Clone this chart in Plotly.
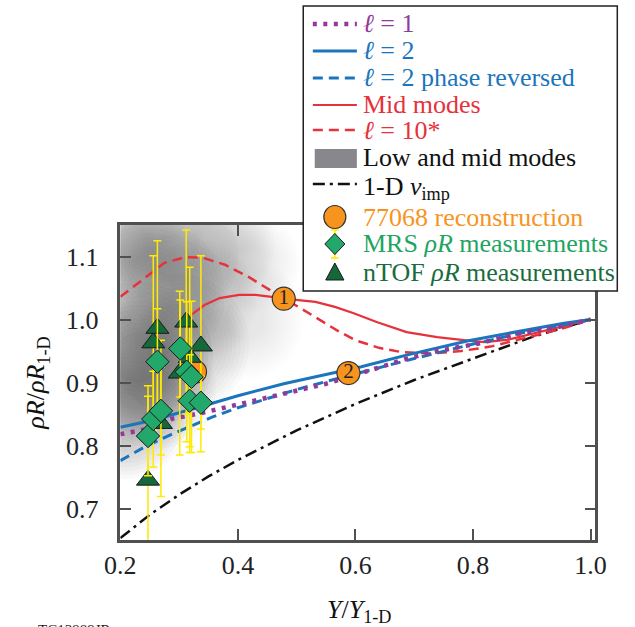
import plotly.graph_objects as go

# ---------------- data ----------------
# l = 1 (dotted purple)
l1_x = [0.2, 0.24, 0.29, 0.34, 0.40, 0.47, 0.55, 0.61, 0.685, 0.74, 0.81, 0.88, 0.945, 1.0]
l1_y = [0.818, 0.825, 0.843, 0.852, 0.865, 0.881, 0.898, 0.915, 0.937, 0.950, 0.962, 0.978, 0.988, 1.0]

# l = 2 (solid blue)
l2_x = [0.2, 0.255, 0.33, 0.40, 0.478, 0.565, 0.61, 0.685, 0.79, 0.90, 0.955, 1.0]
l2_y = [0.829, 0.840, 0.860, 0.879, 0.898, 0.916, 0.925, 0.943, 0.966, 0.985, 0.994, 1.0]

# l = 2 phase reversed (dashed blue)
l2r_x = [0.2, 0.24, 0.29, 0.356, 0.40, 0.45, 0.50, 0.56, 0.62, 0.70, 0.80, 0.90, 1.0]
l2r_y = [0.776, 0.797, 0.819, 0.845, 0.860, 0.875, 0.889, 0.904, 0.919, 0.938, 0.961, 0.982, 1.0]

# Mid modes (solid red)
mid_x = [0.296, 0.316, 0.343, 0.369, 0.402, 0.43, 0.457, 0.478, 0.532, 0.565, 0.597,
         0.636, 0.687, 0.739, 0.788, 0.82, 0.86, 0.90, 0.95, 1.0]
mid_y = [0.988, 1.004, 1.023, 1.034, 1.039, 1.039, 1.036, 1.033, 1.028, 1.020, 1.010,
         0.996, 0.980, 0.972, 0.967, 0.964, 0.968, 0.977, 0.988, 1.0]

# l = 10* (dashed red)
l10_x = [0.2, 0.226, 0.247, 0.275, 0.311, 0.340, 0.378, 0.421, 0.454, 0.48, 0.51, 0.54,
         0.57, 0.60, 0.64, 0.68, 0.73, 0.78, 0.83, 0.89, 0.95, 1.0]
l10_y = [1.036, 1.055, 1.071, 1.090, 1.099, 1.098, 1.087, 1.066, 1.047, 1.033, 1.016, 0.999,
         0.982, 0.967, 0.955, 0.948, 0.946, 0.950, 0.957, 0.971, 0.985, 1.0]

# 1-D v_imp (dash-dot black)
vimp_x = [0.2, 0.25, 0.30, 0.35, 0.40, 0.50, 0.60, 0.70, 0.80, 0.90, 1.0]
vimp_y = [0.653, 0.690, 0.722, 0.751, 0.777, 0.824, 0.866, 0.904, 0.938, 0.972, 1.0]

# 77068 reconstruction
rec_x = [0.327, 0.478, 0.588]
rec_y = [0.917, 1.033, 0.915]
rec_label = ["", "1", "2"]

# MRS rho-R measurements
mrs_x = [0.247, 0.256, 0.263, 0.269, 0.302, 0.313, 0.321, 0.318, 0.337]
mrs_y = [0.815, 0.842, 0.933, 0.855, 0.954, 0.917, 0.909, 0.871, 0.868]
mrs_err = [0.063, 0.076, 0.084, 0.070, 0.077, 0.111, 0.120, 0.073, 0.042]

# nTOF rho-R measurements
ntof_x = [0.247, 0.256, 0.263, 0.269, 0.301, 0.312, 0.318, 0.337]
ntof_y = [0.745, 0.963, 0.986, 0.835, 0.915, 0.996, 0.940, 0.958]
ntof_err_up = [0.150, 0.138, 0.139, 0.132, 0.130, 0.146, 0.143, 0.143]
ntof_err_dn = [0.150, 0.138, 0.139, 0.116, 0.130, 0.146, 0.151, 0.168]

# Low and mid modes: soft grey cloud (centre, size in px, weight)
cloud_x = [0.205, 0.23, 0.25, 0.29, 0.30, 0.36, 0.41, 0.42, 0.26, 0.22, 0.33]
cloud_y = [0.85, 0.94, 1.04, 1.10, 0.96, 1.12, 1.00, 1.09, 0.89, 1.12, 1.03]
cloud_size = [130, 150, 150, 130, 140, 120, 120, 100, 120, 110, 120]
cloud_weight = [1.1, 1.3, 1.0, 0.8, 0.9, 0.6, 0.4, 0.4, 1.0, 0.9, 0.6]

# ---------------- styling ----------------
W, H = 635, 627
SERIF = "Liberation Serif, Times New Roman, serif"
PURPLE = "#93399A"
BLUE = "#1B75BC"
RED = "#E5323B"
ORANGE = "#F7941E"
MRS_GREEN = "#21A86A"
NTOF_GREEN = "#15683A"
YELLOW = "#FFEA00"
AXIS = "#505050"
FS = 26

PLOT_L, PLOT_R, PLOT_T, PLOT_B = 109, 605, 225, 540


def px(x):
    return x / W


def py(y):
    return 1 - y / H


fig = go.Figure()

# grey cloud, built from stacked translucent discs
N_LAYERS = 12
for k in range(N_LAYERS):
    f = 1 - 0.06 * k
    fig.add_trace(go.Scatter(
        x=cloud_x, y=cloud_y, mode="markers", hoverinfo="skip", showlegend=False,
        marker=dict(size=[s * f for s in cloud_size], color="#505050",
                    opacity=[0.032 * w for w in cloud_weight], line=dict(width=0)),
    ))

fig.add_trace(go.Scatter(x=vimp_x, y=vimp_y, mode="lines", name="1-D v_imp", showlegend=False,
                         line=dict(color="#111111", width=2.5, dash="12px,5px,3px,5px")))
fig.add_trace(go.Scatter(x=l10_x, y=l10_y, mode="lines", name="l = 10*", showlegend=False,
                         line=dict(color=RED, width=2.5, dash="10px,6px")))
fig.add_trace(go.Scatter(x=mid_x, y=mid_y, mode="lines", name="Mid modes", showlegend=False,
                         line=dict(color=RED, width=2.2)))
fig.add_trace(go.Scatter(x=l2r_x, y=l2r_y, mode="lines", name="l = 2 phase reversed", showlegend=False,
                         line=dict(color=BLUE, width=3, dash="10px,6px")))
fig.add_trace(go.Scatter(x=l2_x, y=l2_y, mode="lines", name="l = 2", showlegend=False,
                         line=dict(color=BLUE, width=3)))
fig.add_trace(go.Scatter(x=l1_x, y=l1_y, mode="lines", name="l = 1", showlegend=False,
                         line=dict(color=PURPLE, width=4.5, dash="4px,6.5px")))

fig.add_trace(go.Scatter(
    x=rec_x, y=rec_y, mode="markers", name="77068 reconstruction", showlegend=False,
    marker=dict(size=23, color=ORANGE, line=dict(color="#333", width=1.2)),
))
# numbers on the labelled reconstruction points
lab = [(x, y, t) for x, y, t in zip(rec_x, rec_y, rec_label) if t]
fig.add_trace(go.Scatter(
    x=[p[0] for p in lab], y=[p[1] for p in lab], text=[p[2] for p in lab],
    mode="text", textposition="middle center", showlegend=False, hoverinfo="skip",
    textfont=dict(family=SERIF, size=21, color="#222"),
))

fig.add_trace(go.Scatter(
    x=ntof_x, y=ntof_y, mode="markers", name="nTOF ρR measurements", showlegend=False,
    error_y=dict(type="data", array=ntof_err_up, arrayminus=ntof_err_dn, color=YELLOW,
                 thickness=1.5, width=4),
    marker=dict(symbol="triangle-up", size=20, color=NTOF_GREEN, line=dict(color="#1a1a1a", width=1)),
))
fig.add_trace(go.Scatter(
    x=mrs_x, y=mrs_y, mode="markers", name="MRS ρR measurements", showlegend=False,
    error_y=dict(type="data", array=mrs_err, color=YELLOW, thickness=1.5, width=4),
    marker=dict(symbol="diamond", size=18, color=MRS_GREEN, line=dict(color="#1a1a1a", width=1)),
))

# ---------------- legend (drawn as shapes + annotations) ----------------
shapes = []
annotations = []
LEG_L, LEG_R, LEG_T, LEG_B = 300, 628, 6, 291
shapes.append(dict(type="rect", xref="paper", yref="paper", layer="above",
                   x0=px(LEG_L), x1=px(LEG_R), y0=py(LEG_B), y1=py(LEG_T),
                   fillcolor="white", line=dict(color="#222", width=1.5)))

SYM_L, SYM_R, SYM_C, TXT_X = 310, 356, 333, 360

line_rows = [
    (24, 24, PURPLE, 4.5, "4px,6.5px", "<i>ℓ</i> = 1"),
    (51, 51, BLUE, 3, "solid", "<i>ℓ</i> = 2"),
    (78, 78, BLUE, 3, "10px,6px", "<i>ℓ</i> = 2 phase reversed"),
    (105, 105, RED, 2.2, "solid", "Mid modes"),
    (130, 130, RED, 2.5, "10px,6px", "<i>ℓ</i> = 10*"),
    (184, 188, "#111111", 2.5, "12px,5px,3px,5px", "1-D <i>v</i><sub>imp</sub>"),
]
for yl, yt, col, wd, dsh, label in line_rows:
    shapes.append(dict(type="line", xref="paper", yref="paper", layer="above",
                       x0=px(SYM_L), x1=px(SYM_R), y0=py(yl), y1=py(yl),
                       line=dict(color=col, width=wd, dash=dsh)))
    annotations.append(dict(xref="paper", yref="paper", x=px(TXT_X), y=py(yt),
                            xanchor="left", yanchor="middle", showarrow=False, text=label,
                            font=dict(family=SERIF, size=FS, color=col)))

# grey swatch
shapes.append(dict(type="rect", xref="paper", yref="paper", layer="above",
                   x0=px(312), x1=px(356), y0=py(168), y1=py(149),
                   fillcolor="#88888c", line=dict(width=0)))
annotations.append(dict(xref="paper", yref="paper", x=px(TXT_X), y=py(157),
                        xanchor="left", yanchor="middle", showarrow=False,
                        text="Low and mid modes", font=dict(family=SERIF, size=FS, color="#111")))

# orange circle
yc = 217
shapes.append(dict(type="circle", xref="paper", yref="paper", layer="above",
                   x0=px(SYM_C - 11.5), x1=px(SYM_C + 11.5), y0=py(yc + 11.5), y1=py(yc - 11.5),
                   fillcolor=ORANGE, line=dict(color="#333", width=1.2)))
annotations.append(dict(xref="paper", yref="paper", x=px(TXT_X), y=py(yc),
                        xanchor="left", yanchor="middle", showarrow=False,
                        text="77068 reconstruction", font=dict(family=SERIF, size=FS, color=ORANGE)))

# green diamond with yellow bar stubs
yc = 244
for y0, y1 in [(yc - 14, yc - 9), (yc + 9, yc + 14)]:
    shapes.append(dict(type="line", xref="paper", yref="paper", layer="above",
                       x0=px(SYM_C), x1=px(SYM_C), y0=py(y0), y1=py(y1),
                       line=dict(color=YELLOW, width=1.6)))
for ycap in (yc - 14, yc + 14):
    shapes.append(dict(type="line", xref="paper", yref="paper", layer="above",
                       x0=px(SYM_C - 4), x1=px(SYM_C + 4), y0=py(ycap), y1=py(ycap),
                       line=dict(color=YELLOW, width=1.6)))
d = 10.5
shapes.append(dict(type="path", xref="paper", yref="paper", layer="above",
                   path=f"M {px(SYM_C)} {py(yc - d)} L {px(SYM_C + d)} {py(yc)} "
                        f"L {px(SYM_C)} {py(yc + d)} L {px(SYM_C - d)} {py(yc)} Z",
                   fillcolor=MRS_GREEN, line=dict(color="#1a1a1a", width=1)))
annotations.append(dict(xref="paper", yref="paper", x=px(TXT_X), y=py(yc),
                        xanchor="left", yanchor="middle", showarrow=False,
                        text="MRS <i>ρR</i> measurements",
                        font=dict(family=SERIF, size=FS, color="#1FA463")))

# dark green triangle
yc = 272
shapes.append(dict(type="path", xref="paper", yref="paper", layer="above",
                   path=f"M {px(SYM_C)} {py(yc - 9)} L {px(SYM_C + 9.5)} {py(yc + 8)} "
                        f"L {px(SYM_C - 9.5)} {py(yc + 8)} Z",
                   fillcolor=NTOF_GREEN, line=dict(color="#1a1a1a", width=1)))
annotations.append(dict(xref="paper", yref="paper", x=px(TXT_X), y=py(yc),
                        xanchor="left", yanchor="middle", showarrow=False,
                        text="nTOF <i>ρR</i> measurements",
                        font=dict(family=SERIF, size=FS, color="#1A6B3E")))

# x-axis title and job code
annotations.append(dict(xref="paper", yref="paper", x=px(358), y=py(611),
                        xanchor="center", yanchor="middle", showarrow=False,
                        text="<i>Y</i>/<i>Y</i><sub>1-D</sub>",
                        font=dict(family=SERIF, size=FS, color="#111")))
annotations.append(dict(xref="paper", yref="paper", x=px(21), y=py(620),
                        xanchor="left", yanchor="top", showarrow=False,
                        text="TC13989JR", font=dict(family=SERIF, size=15, color="#222")))

axis_common = dict(
    showline=True, linecolor=AXIS, linewidth=2.5, mirror="ticks",
    ticks="inside", ticklen=11, tickwidth=2, tickcolor=AXIS,
    showgrid=False, zeroline=False, tickformat=".1f",
    tickfont=dict(family=SERIF, size=FS, color="#222"),
)

fig.update_layout(
    width=W, height=H, autosize=False,
    margin=dict(l=0, r=0, t=0, b=0),
    paper_bgcolor="white", plot_bgcolor="white",
    showlegend=False,
    xaxis=dict(domain=[px(PLOT_L), px(PLOT_R)], range=[0.2, 1.008],
               tick0=0.2, dtick=0.2, ticklabelstandoff=0, **axis_common),
    yaxis=dict(domain=[py(PLOT_B), py(PLOT_T)], range=[0.65, 1.15],
               tick0=0.7, dtick=0.1, ticklabelstandoff=14,
               title=dict(text="<i>ρR</i>/<i>ρR</i><sub>1-D</sub>", standoff=14,
                          font=dict(family=SERIF, size=FS, color="#111")),
               automargin=False, **axis_common),
    shapes=shapes,
    annotations=annotations,
)

fig.write_html("out.html")
